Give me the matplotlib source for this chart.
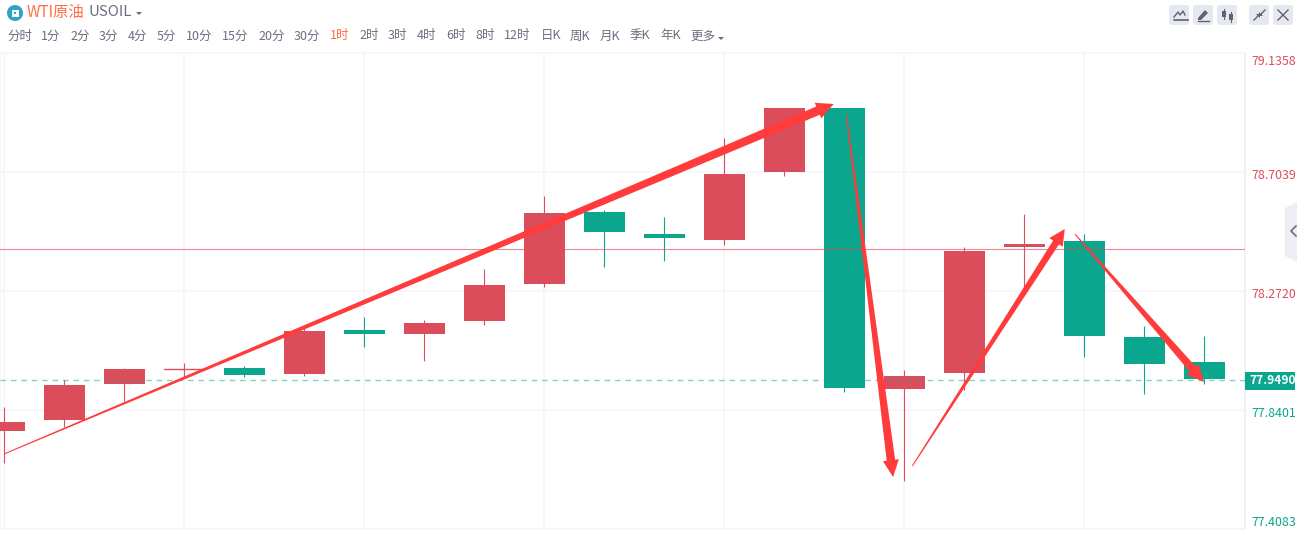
import matplotlib
matplotlib.use("Agg")
import matplotlib.pyplot as plt
from matplotlib.patches import Polygon, FancyBboxPatch, Rectangle, Circle
from matplotlib.transforms import ScaledTranslation
import numpy as np

plt.rcParams['font.family'] = ['Noto Sans CJK SC', 'DejaVu Sans']

W, H = 1297, 550

# candle data: prices
opens  = [77.7639, 77.8038, 77.9345, 77.9871, 77.9925, 77.9708, 78.1305, 78.1159, 78.1631, 78.2974,
          78.5587, 78.4789, 78.4571, 78.7039, 78.9362, 77.9163, 77.9744, 78.4317, 78.4535, 78.1050, 78.0143]
closes = [77.7965, 77.9308, 77.9889, 77.9890, 77.9671, 78.1268, 78.1159, 78.1559, 78.2938, 78.5551,
          78.4861, 78.4643, 78.6966, 78.9362, 77.9199, 77.9635, 78.4172, 78.4426, 78.1087, 78.0070, 77.9526]
highs  = [77.8510, 77.9490, 77.9925, 78.0107, 77.9998, 78.1413, 78.1776, 78.1667, 78.3518, 78.6168,
          78.5660, 78.5406, 78.8273, 78.9362, 78.9362, 77.9853, 78.4317, 78.5514, 78.4789, 78.1450, 78.1087]
lows   = [77.6477, 77.7784, 77.8728, 77.9599, 77.9599, 77.9635, 78.0687, 78.0179, 78.1486, 78.2865,
          78.3591, 78.3809, 78.4390, 78.6894, 77.9054, 77.5824, 77.9127, 78.2829, 78.0325, 77.8982, 77.9345]

price_ticks = [79.1358, 78.7039, 78.2720, 77.8401, 77.4083]
last_price = 77.9490
ref_price = 78.4244

# hand-drawn arrows: (index start, price start, index end, price end, start width, end width, head width, head length)
arrow_x0 = [-0.01, 14.03, 15.13, 17.84]
arrow_p0 = [77.6804, 78.9144, 77.6368, 78.4789]
arrow_x1 = [13.82, 14.81, 17.67, 19.99]
arrow_p1 = [78.9507, 77.5969, 78.4971, 77.9418]
arrow_w0 = [1.0, 1.0, 1.0, 1.0]
arrow_w1 = [9.0, 8.5, 7.0, 8.0]
arrow_hw = [17, 16, 16, 16]
arrow_hl = [17, 17, 16, 17]

tabs = ['分时', '1分', '2分', '3分', '4分', '5分', '10分', '15分', '20分', '30分', '1时', '2时', '3时',
        '4时', '6时', '8时', '12时', '日K', '周K', '月K', '季K', '年K', '更多']
tab_x = [7, 41, 70, 99, 128, 157, 186, 222, 258, 294, 330, 359, 388, 417, 446, 475, 504, 541, 570, 600, 630, 660, 690]

RED = '#dc4d5b'
WICK_RED = '#e34c5a'
GREEN = '#0aa68d'
GRID = '#f5f6f9'
TXT = '#6a6f80'
ORANGE = '#ff6e3f'
ARROW = '#ff3b3b'

fig = plt.figure(figsize=(W / 100, H / 100), dpi=100, facecolor='white')
ax = fig.add_axes([0, 1 - 529 / H, 1245 / W, (529 - 53) / H])

ax.set_xlim(-0.075, 20.675)
ax.set_ylim(77.4083, 79.1358)

n = len(opens)
idx = np.arange(n)
body_w = 41 / 60
for i in idx:
    up = closes[i] >= opens[i]
    c = RED if up else GREEN
    wc = WICK_RED if up else GREEN
    ax.vlines(i - 0.005, lows[i], highs[i], color=wc, lw=0.8, zorder=2, snap=True)
    lo, hi = min(opens[i], closes[i]), max(opens[i], closes[i])
    ax.bar(i, max(hi - lo, 0.0), bottom=lo, width=body_w, color=c, lw=0, zorder=3)
    if hi - lo < 0.004:
        ax.hlines((hi + lo) / 2, i - body_w / 2, i + body_w / 2, color=c, lw=1.0, zorder=3, snap=True)

ax.axhline(ref_price, color=WICK_RED, alpha=0.65, lw=0.8, zorder=4)
ax.axhline(last_price, color=GREEN, alpha=0.5, lw=1.0, ls=(0, (4, 3.5)), zorder=4)

# tapered arrows, built in screen units so the width is in pixels
fig.canvas.draw()
inv = ax.transData.inverted()
for x0, p0, x1, p1, w0, w1, hw, hl in zip(arrow_x0, arrow_p0, arrow_x1, arrow_p1, arrow_w0, arrow_w1, arrow_hw, arrow_hl):
    a = ax.transData.transform((x0, p0))
    b = ax.transData.transform((x1, p1))
    d = (b - a) / np.linalg.norm(b - a)
    nrm = np.array([-d[1], d[0]])
    base = b - d * hl
    pts = [a + nrm * w0 / 2, base + nrm * w1 / 2, base + nrm * hw / 2, b,
           base - nrm * hw / 2, base - nrm * w1 / 2, a - nrm * w0 / 2]
    ax.add_patch(Polygon(inv.transform(pts), closed=True, fc=ARROW, ec='none', zorder=6))

# axis styling
ax.set_xticks(idx[::3] - 0.01)
ax.tick_params(axis='x', length=0, labelbottom=False)
ax.yaxis.tick_right()
ax.set_yticks(price_ticks)
ax.set_yticklabels([f'{p:.4f}' for p in price_ticks], fontsize=8.9)
ax.tick_params(axis='y', length=0, pad=4.5)
ylabs = ax.get_yticklabels()
down = ScaledTranslation(0, -2.4 / 100, fig.dpi_scale_trans)
for lab, p in zip(ylabs, price_ticks):
    lab.set_color(RED if p > last_price else GREEN)
    lab.set_transform(lab.get_transform() + down)
ylabs[0].set_va('top')
ylabs[-1].set_va('bottom')
ylabs[-1].set_transform(ylabs[-1].get_transform() + ScaledTranslation(0, 2.4 / 100, fig.dpi_scale_trans))
ax.grid(True, color=GRID, lw=1.2, zorder=0)
ax.set_axisbelow(True)
for s in ax.spines.values():
    s.set_color(GRID)
    s.set_linewidth(1.2)
ax.spines['right'].set_color('#eef0f5')

# full-figure overlay in pixel units, for the page furniture
ov = fig.add_axes([0, 0, 1, 1], facecolor='none')
ov.set_xlim(0, W)
ov.set_ylim(H, 0)
ov.axis('off')

# last price tag
ov.add_patch(Rectangle((1245, 372), 50, 17.5, fc=GREEN, ec='none'))
ov.text(1273, 380.5, f'{last_price:.4f}', color='white', fontsize=8.6, fontweight='bold', ha='center', va='center')

# title row
ov.add_patch(Circle((15, 13), 8, fc='#2ea3c8', ec='none'))
ov.add_patch(Rectangle((11.5, 9.5), 7, 7, fc='white', ec='none'))
ov.add_patch(Rectangle((13.7, 11.7), 2.6, 2.6, fc='#2ea3c8', ec='none'))
ov.text(27, 12, 'WTI原油', color=ORANGE, fontsize=11, va='center', ha='left')
ov.text(88, 12, 'USOIL', color=TXT, fontsize=10.8, va='center', ha='left')
ov.add_patch(Polygon([(136, 12), (142, 12), (139, 15)], fc=TXT, ec='none'))

# interval tabs
for t, x in zip(tabs, tab_x):
    ov.text(x, 36, t, color=ORANGE if t == '1时' else TXT, fontsize=9, va='center', ha='left')
ov.add_patch(Polygon([(718, 37), (724, 37), (721, 40)], fc=TXT, ec='none'))

# toolbar buttons
for x in [1169, 1193, 1217, 1249, 1273]:
    ov.add_patch(FancyBboxPatch((x + 2, 7), 16, 16, boxstyle='round,pad=2,rounding_size=3', fc='#e6e8ef', ec='none'))
ic = '#5d6274'
ov.plot([1174, 1178, 1180, 1183, 1185], [17, 12, 15, 11, 15], color=ic, lw=1)
ov.plot([1174, 1188], [20, 20], color=ic, lw=1.2)
ov.add_patch(Polygon([(1198, 18), (1205, 10), (1208, 13), (1201, 20), (1198, 20)], fc=ic, ec='none'))
ov.plot([1198, 1209], [20.5, 20.5], color=ic, lw=1)
for cx, y0, y1 in [(1224, 11, 17), (1231, 14, 20)]:
    ov.plot([cx, cx], [y0 - 2, y1 + 2], color=ic, lw=0.8)
    ov.add_patch(Rectangle((cx - 2, y0), 4, y1 - y0, fc=ic, ec='none'))
ov.plot([1254, 1258], [20, 16], color=ic, lw=1)
ov.plot([1265, 1261], [10, 14], color=ic, lw=1)
ov.add_patch(Polygon([(1256, 14), (1260, 14), (1260, 18)], fc=ic, ec='none'))
ov.add_patch(Polygon([(1259, 12), (1263, 16), (1259, 16)], fc=ic, ec='none'))
ov.plot([1278, 1288], [10, 20], color=ic, lw=1)
ov.plot([1288, 1278], [10, 20], color=ic, lw=1)

# side collapse tab
ov.add_patch(Polygon([(1297, 202), (1285, 208), (1285, 256), (1297, 262)], fc='#eceef3', ec='none'))
ov.plot([1296, 1291, 1296], [226, 231, 236], color=TXT, lw=1.2)

fig.savefig('out.png', dpi=100, facecolor='white')
